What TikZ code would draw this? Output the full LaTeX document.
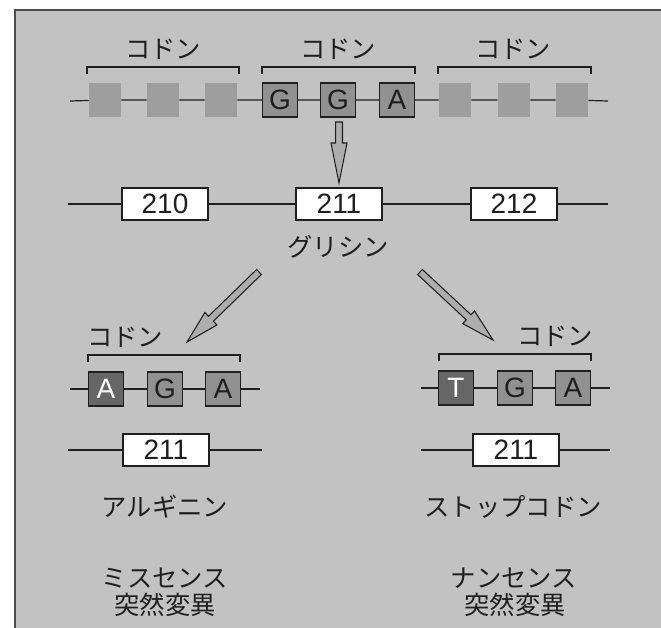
\documentclass[tikz,border=0pt]{standalone}
\usepackage{fontspec}
\setmainfont{Liberation Sans}
\newfontfamily\jp{Noto Sans CJK JP}
\usetikzlibrary{calc}
\definecolor{bg}{gray}{0.76}
\definecolor{framecol}{gray}{0.3}
\definecolor{basefill}{gray}{0.57}
\definecolor{basedark}{gray}{0.40}
\definecolor{blurfill}{gray}{0.62}
\definecolor{arrfill}{gray}{0.68}
\definecolor{ink}{gray}{0.12}
\newcommand\hollowarrow[5]{%
  \coordinate (hab) at ($(#2)!#3!(#1)$);
  \draw[harrow] ($(#1)!#5!90:(#2)$) -- ($(hab)!#5!90:(#2)$) -- ($(hab)!#4!90:(#2)$) -- (#2)
    -- ($(hab)!#4!-90:(#2)$) -- ($(hab)!#5!-90:(#2)$) -- ($(#1)!#5!-90:(#2)$) -- cycle;}
\begin{document}
\begin{tikzpicture}[x=0.75pt,y=-0.75pt,
  base/.style={draw=ink, line width=0.9pt, fill=basefill, text=ink, minimum width=26pt, minimum height=25.5pt, inner sep=0pt, font=\fontsize{21}{21}\selectfont},
  darkbase/.style={base, fill=basedark, text=white},
  blurbox/.style={fill=blurfill, minimum width=24pt, minimum height=25pt, inner sep=0pt},
  numbox/.style={draw=ink, line width=0.9pt, fill=white, text=ink, minimum width=64.5pt, minimum height=24pt, inner sep=0pt, font=\fontsize{21}{21}\selectfont},
  jlabel/.style={text=ink, inner sep=0pt, font=\jp\fontsize{19}{22}\selectfont},
  strand/.style={draw=ink, line width=0.9pt},
  bracket/.style={draw=ink, line width=0.9pt},
  harrow/.style={draw=ink, line width=0.8pt, fill=arrfill, line join=miter}
]
\useasboundingbox (0,0) rectangle (661,628);
\fill[bg] (15,10) rectangle (661,628);
\draw[framecol, line width=1.5pt] (15,628) -- (15,10) -- (661,10);

% ---- top strand ----
\coordinate (tl) at (70,101);
\coordinate (tr) at (608,101);
\node[blurbox] (u1) at (105,100) {};
\node[blurbox] (u2) at (163,100) {};
\node[blurbox] (u3) at (221,100) {};
\node[base] (g1) at (280,100) {G};
\node[base] (g2) at (338,100) {G};
\node[base] (g3) at (397,100) {A};
\node[blurbox] (u7) at (455,100) {};
\node[blurbox] (u8) at (514,100) {};
\node[blurbox] (u9) at (572,100) {};
\draw[strand] (tl) -- (u1) -- (u2) -- (u3) -- (g1) -- (g2) -- (g3) -- (u7) -- (u8) -- (u9) -- (tr);

\draw[bracket] (87,74) -- (87,67) -- (239,67) -- (239,74);
\draw[bracket] (262,74) -- (262,67) -- (415,67) -- (415,74);
\draw[bracket] (438,74) -- (438,67) -- (591,67) -- (591,74);
\node[jlabel] (c1) at (163,49) {コドン};
\node[jlabel] (c2) at (338,49) {コドン};
\node[jlabel] (c3) at (513,49) {コドン};

% ---- number row ----
\coordinate (nl) at (68,204);
\coordinate (nr) at (608,204);
\node[numbox] (n210) at (165,204) {210};
\node[numbox] (n211) at (339,204) {211};
\node[numbox] (n212) at (514,204) {212};
\draw[strand] (nl) -- (n210) -- (n211) -- (n212) -- (nr);
\node[jlabel] (gly) at (338,247) {グリシン};

% ---- arrows ----
\coordinate (va) at (339,122);
\coordinate (vb) at (339,183);
\hollowarrow{va}{vb}{30pt}{6pt}{2.6pt}
\coordinate (la) at (259,272);
\coordinate (lb) at (187,342);
\hollowarrow{la}{lb}{25pt}{6.5pt}{2.6pt}
\coordinate (ra) at (420,272);
\coordinate (rb) at (493,340);
\hollowarrow{ra}{rb}{25pt}{6.5pt}{2.6pt}

% ---- left mutant ----
\node[jlabel] (lc) at (125,337) {コドン};
\draw[bracket] (88,362) -- (88,355) -- (240,355) -- (240,362);
\coordinate (ll1) at (70,389);
\coordinate (lr1) at (260,389);
\node[darkbase] (la1) at (106,389) {A};
\node[base] (la2) at (165,389) {G};
\node[base] (la3) at (223,389) {A};
\draw[strand] (ll1) -- (la1) -- (la2) -- (la3) -- (lr1);
\coordinate (ll2) at (68,450);
\coordinate (lr2) at (262,450);
\node[numbox] (ln) at (166,450) {211};
\draw[strand] (ll2) -- (ln) -- (lr2);
\node[jlabel] (arg) at (165,507) {アルギニン};
\node[jlabel] (mis) at (165,578) {ミスセンス};
\node[jlabel] (mut1) at (165,605) {突然変異};

% ---- right mutant ----
\node[jlabel] (rc) at (555,336) {コドン};
\draw[bracket] (439,361) -- (439,354) -- (591,354) -- (591,361);
\coordinate (rl1) at (421,388);
\coordinate (rr1) at (610,388);
\node[darkbase] (ra1) at (456,388) {T};
\node[base] (ra2) at (515,388) {G};
\node[base] (ra3) at (573,388) {A};
\draw[strand] (rl1) -- (ra1) -- (ra2) -- (ra3) -- (rr1);
\coordinate (rl2) at (421,450);
\coordinate (rr2) at (610,450);
\node[numbox] (rn) at (516,450) {211};
\draw[strand] (rl2) -- (rn) -- (rr2);
\node[jlabel] (stop) at (513,507) {ストップコドン};
\node[jlabel] (non) at (514,578) {ナンセンス};
\node[jlabel] (mut2) at (515,605) {突然変異};
\end{tikzpicture}
\end{document}
